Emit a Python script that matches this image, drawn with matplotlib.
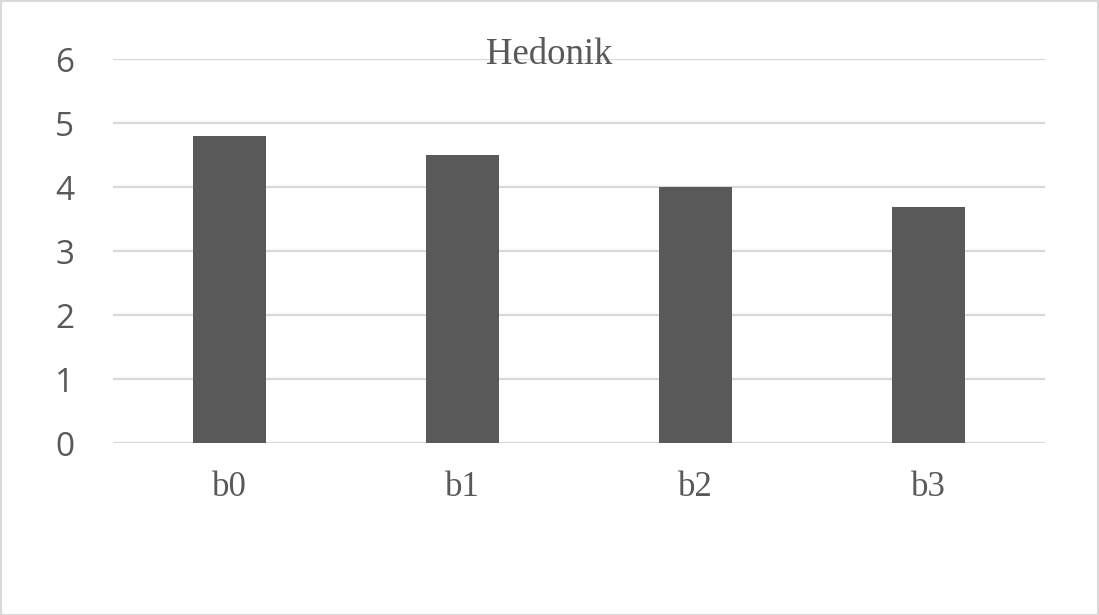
import matplotlib
matplotlib.use("Agg")
import matplotlib.pyplot as plt
from matplotlib.patches import Rectangle

categories = ["b0", "b1", "b2", "b3"]
values = [4.8, 4.5, 4.0, 3.7]
yticks = [0, 1, 2, 3, 4, 5, 6]
title = "Hedonik"

W, H = 1099, 615
fig = plt.figure(figsize=(W / 100, H / 100), dpi=100)
ax = fig.add_axes([113 / W, 1 - 443.3 / H, (1045 - 113) / W, (443.3 - 59.3) / H])

text_col = "#595959"
ax.bar(range(len(categories)), values, width=0.313, color="#595959", zorder=3)
ax.set_xlim(-0.5, len(categories) - 0.5)
ax.set_ylim(0, 6)
ax.set_yticks(yticks)
ax.set_yticklabels([str(t) for t in yticks], fontsize=24, family="Open Sans", color=text_col)
ax.set_xticks(range(len(categories)))
ax.set_xticklabels(categories, fontsize=25, family="Liberation Serif", color=text_col)
ax.tick_params(axis="both", length=0)
ax.tick_params(axis="y", pad=28)
ax.tick_params(axis="x", pad=20)
ax.grid(axis="y", color="#d9d9d9", linewidth=1.6, zorder=0)
for s in ax.spines.values():
    s.set_visible(False)

fig.text(549.5 / W, 1 - 63.5 / H, title, ha="center", va="baseline",
         fontsize=26.5, family="Liberation Serif", color=text_col, zorder=5)

fig.patches.append(Rectangle((0.5 / W, 0.5 / H), 1 - 1.5 / W, 1 - 1.5 / H, transform=fig.transFigure,
                             fill=False, edgecolor="#d9d9d9", linewidth=1.5))
fig.savefig("out.png", dpi=100, facecolor="white")
